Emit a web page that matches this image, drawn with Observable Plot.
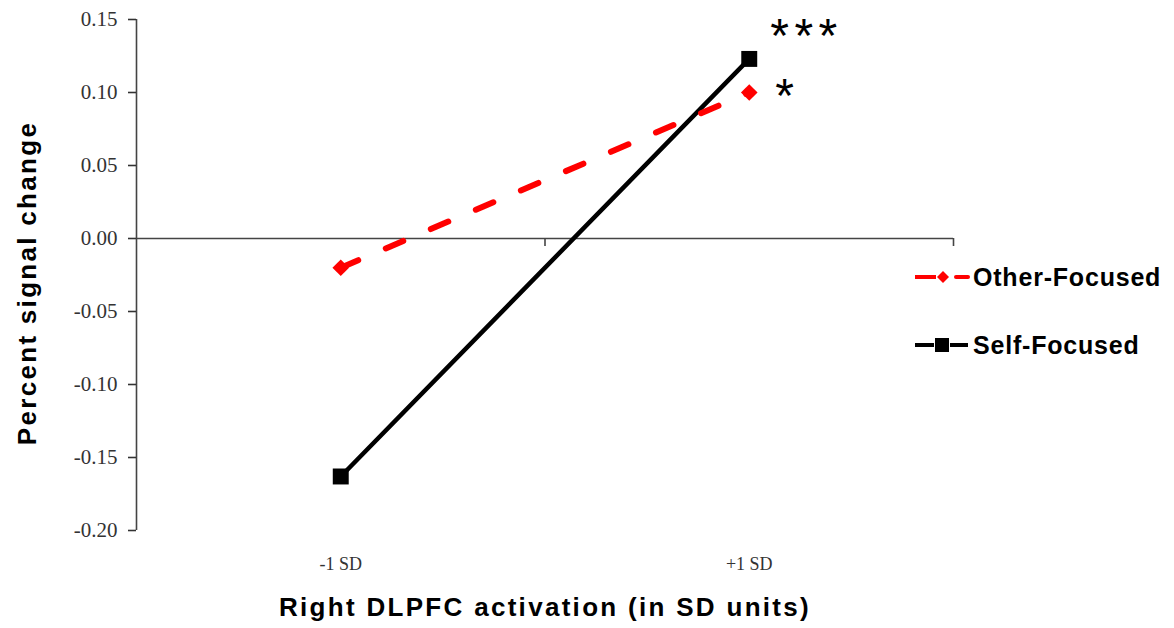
<!DOCTYPE html>
<html><head><meta charset="utf-8">
<script src="https://cdn.jsdelivr.net/npm/d3@7"></script>
<script src="https://cdn.jsdelivr.net/npm/@observablehq/plot@0.6"></script>
<style>
body{margin:0;background:#fff;}
#wrap{position:relative;width:1174px;height:628px;overflow:hidden;}
#wrap svg.chart{position:absolute;left:0;top:0;}
.leg{position:absolute;left:912px;height:30px;display:flex;align-items:center;font:bold 25px "Liberation Sans",Arial,sans-serif;letter-spacing:0.8px;color:#000;white-space:nowrap;}
.leg svg{display:block;margin-right:3px;}
</style></head><body><div id="wrap"></div>
<script>
// ---- data ----
const categories = ["-1 SD", "+1 SD"];
const seriesNames = ["Other-Focused", "Self-Focused"];
const otherValues = [-0.02, 0.10];
const selfValues = [-0.163, 0.123];
const significance = ["*", "***"];           // at +1 SD: Other, Self
const yTicks = [-0.20, -0.15, -0.10, -0.05, 0.00, 0.05, 0.10, 0.15];
const seriesColors = ["#ff0000", "#000000"];
const yTitle = "Percent signal change";
const xTitle = "Right DLPFC activation (in SD units)";

const otherRows = categories.map((c, i) => ({series: seriesNames[0], cat: c, pos: i + 0.5, value: otherValues[i]}));
const selfRows = categories.map((c, i) => ({series: seriesNames[1], cat: c, pos: i + 0.5, value: selfValues[i]}));
const sigRows = [
  {...otherRows[otherRows.length - 1], label: significance[0]},
  {...selfRows[selfRows.length - 1], label: significance[1]}
];

const tickFont = '"Liberation Serif", "Times New Roman", serif';
const titleFont = '"Liberation Sans", Arial, sans-serif';

const chart = Plot.plot({
  width: 1174,
  height: 628,
  marginLeft: 136,
  marginRight: 221,
  marginTop: 19,
  marginBottom: 98,
  x: {domain: [0, categories.length], axis: null},
  y: {domain: [-0.20, 0.15], axis: null},
  marks: [
    // axis lines
    Plot.ruleY([0], {stroke: "#444", strokeWidth: 1.6}),
    Plot.ruleX([0], {stroke: "#444", strokeWidth: 1.6}),
    Plot.ruleX(d3.range(1, categories.length + 1), {y1: 0, y2: 0, insetBottom: -8, stroke: "#444", strokeWidth: 1.6}),
    Plot.axisY({ticks: yTicks, tickFormat: d => d.toFixed(2), tickSize: 8, tickPadding: 11,
      fontSize: 21, fontFamily: tickFont, color: "#333", strokeWidth: 1.6, label: null}),
    Plot.axisX({ticks: categories.map((c, i) => i + 0.5), tickFormat: d => categories[Math.round(d - 0.5)],
      tickSize: 0, tickPadding: 27, fontSize: 18, fontFamily: tickFont, color: "#333", label: null}),
    // axis titles
    Plot.text([yTitle], {frameAnchor: "left", dx: -109, dy: 8, rotate: -90, text: d => d,
      textAnchor: "middle", lineAnchor: "middle", fontSize: 26, fontWeight: "bold", fontFamily: titleFont, fill: "#000"}),
    Plot.text([xTitle], {frameAnchor: "bottom", dy: 77, text: d => d,
      textAnchor: "middle", lineAnchor: "middle", fontSize: 26, fontWeight: "bold", fontFamily: titleFont, fill: "#000"}),
    // series
    Plot.line(selfRows, {x: "pos", y: "value", stroke: seriesColors[1], strokeWidth: 4.5}),
    Plot.line(otherRows, {x: "pos", y: "value", stroke: seriesColors[0], strokeWidth: 6,
      strokeDasharray: "19,30", strokeLinecap: "round"}),
    Plot.dot(selfRows, {x: "pos", y: "value", symbol: "square", r: 9, fill: seriesColors[1], stroke: null}),
    Plot.dot(otherRows, {x: "pos", y: "value", symbol: "diamond2", r: 7.5, fill: seriesColors[0], stroke: null}),
    // significance stars
    Plot.text(sigRows.filter(d => d.series === seriesNames[0]), {x: "pos", y: "value", text: "label",
      textAnchor: "start", fontSize: 48, fontFamily: titleFont, fill: "#000", dx: 26, dy: 4}),
    Plot.text(sigRows.filter(d => d.series === seriesNames[1]), {x: "pos", y: "value", text: "label",
      textAnchor: "start", fontSize: 48, fontFamily: titleFont, fill: "#000", dx: 21, dy: -22})
  ]
});
chart.classList.add("chart");
d3.select(chart).selectAll("text").each(function() {
  const t = this.textContent;
  if (t === yTitle || t === xTitle) this.style.letterSpacing = "2.3px";
  if (significance.includes(t)) this.style.letterSpacing = "5.5px";
});
const wrap = document.getElementById("wrap");
wrap.appendChild(chart);

// legend (right side)
const legendTops = [262, 330];
const symbolSvgs = [
  `<svg width="58" height="20" viewBox="0 0 58 20"><line x1="3" y1="10" x2="24" y2="10" stroke="${seriesColors[0]}" stroke-width="4"/><path d="M31 4 L37 10 L31 16 L25 10 Z" fill="${seriesColors[0]}"/><line x1="44" y1="10" x2="56" y2="10" stroke="${seriesColors[0]}" stroke-width="4" stroke-linecap="round"/></svg>`,
  `<svg width="58" height="20" viewBox="0 0 58 20"><line x1="3" y1="10" x2="22" y2="10" stroke="${seriesColors[1]}" stroke-width="4"/><rect x="23" y="3" width="14" height="14" fill="${seriesColors[1]}"/><line x1="38" y1="10" x2="56" y2="10" stroke="${seriesColors[1]}" stroke-width="4"/></svg>`
];
seriesNames.forEach((name, i) => {
  const d = document.createElement("div");
  d.className = "leg";
  d.style.top = legendTops[i] + "px";
  d.innerHTML = symbolSvgs[i] + `<span>${name}</span>`;
  wrap.appendChild(d);
});
</script></body></html>
